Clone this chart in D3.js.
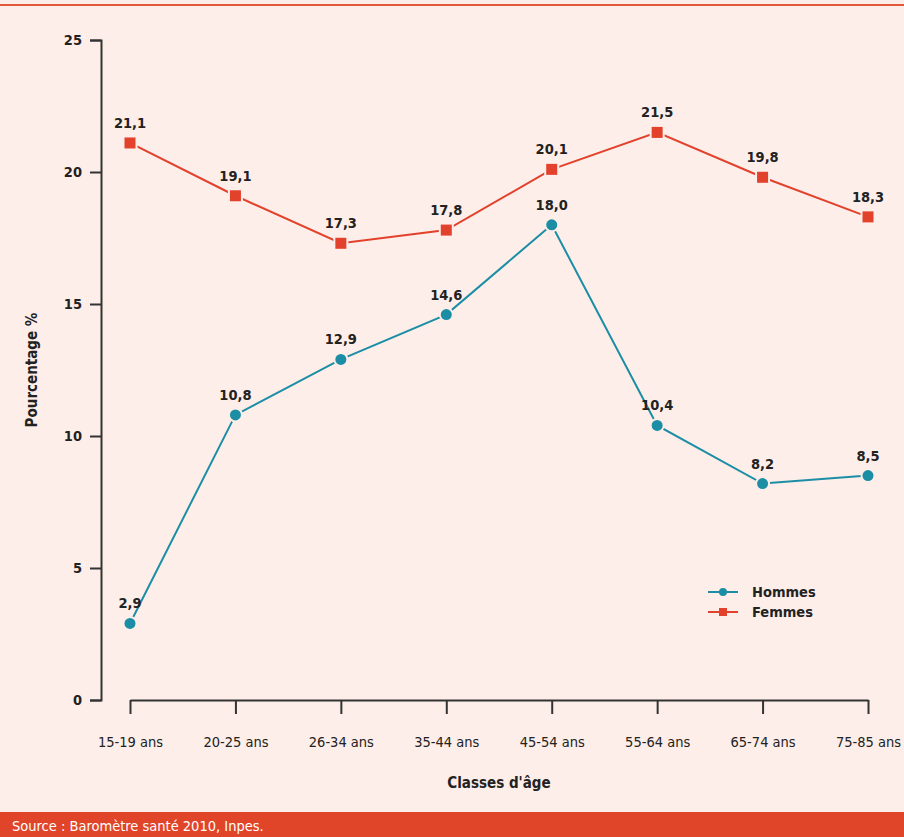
<!DOCTYPE html>
<html lang="fr">
<head>
<meta charset="UTF-8">
<title>Pourcentage par classe d'âge</title>
<script src="https://cdn.jsdelivr.net/npm/d3@7/dist/d3.min.js"></script>
<style>
  body { margin: 0; background: #fdeee9; }
  svg { display: block; font-family: "DejaVu Sans Condensed", "Open Sans", sans-serif; }
</style>
</head>
<body>
<svg width="904" height="837" id="mainsvg"></svg>
<script>
  // données
  const ageClasses = ['15-19 ans', '20-25 ans', '26-34 ans', '35-44 ans', '45-54 ans', '55-64 ans', '65-74 ans', '75-85 ans'];
  const hommes = [2.9, 10.8, 12.9, 14.6, 18.0, 10.4, 8.2, 8.5];
  const femmes = [21.1, 19.1, 17.3, 17.8, 20.1, 21.5, 19.8, 18.3];
  const yTicks = [0, 5, 10, 15, 20, 25];

  const bg = '#fdeee9';
  const colH = '#1b8ea6';
  const colF = '#e2412b';

  const svg = d3.select('svg');
  svg.append('rect').attr('width', 904).attr('height', 837).attr('fill', bg);
  // trait rouge en haut
  svg.append('rect').attr('x', 0).attr('y', 4).attr('width', 904).attr('height', 2).attr('fill', '#e2583b');

  const x = d3.scalePoint().domain(ageClasses).range([130, 868]);
  const y = d3.scaleLinear().domain([0, 25]).range([700, 40]);

  // axe Y
  const yAxis = svg.append('g').attr('transform', 'translate(101,0)')
    .call(d3.axisLeft(y).tickValues(yTicks).tickSize(11).tickPadding(8).tickFormat(d3.format('d')));
  // axe X
  const xAxis = svg.append('g').attr('transform', 'translate(0,700)')
    .call(d3.axisBottom(x).tickSize(14).tickPadding(23).tickSizeOuter(0));
  yAxis.attr('font-family', null).attr('font-size', null);
  xAxis.attr('font-family', null).attr('font-size', null);
  svg.selectAll('.domain, .tick line').attr('stroke', '#333').attr('stroke-width', 2);
  svg.selectAll('.tick text').attr('fill', '#222').attr('font-size', 14.5);
  yAxis.selectAll('.tick text').attr('font-weight', 'bold');

  // titres des axes
  svg.append('text').text("Classes d'âge")
    .attr('x', 499).attr('y', 788).attr('text-anchor', 'middle')
    .attr('font-size', 15).attr('font-weight', 'bold').attr('fill', '#222');
  svg.append('text').text('Pourcentage %')
    .attr('transform', 'translate(37,370) rotate(-90)').attr('text-anchor', 'middle')
    .attr('font-size', 15).attr('font-weight', 'bold').attr('fill', '#222');

  const fmt = v => d3.format('.1f')(v).replace('.', ',');
  const line = d3.line().x((d, i) => x(ageClasses[i])).y(d => y(d));

  const series = [
    {name: 'Hommes', values: hommes, color: colH, shape: 'circle'},
    {name: 'Femmes', values: femmes, color: colF, shape: 'square'}
  ];

  series.forEach(s => {
    const g = svg.append('g');
    g.append('path').datum(s.values).attr('d', line)
      .attr('fill', 'none').attr('stroke', s.color).attr('stroke-width', 2);
    const pts = g.selectAll('.pt').data(s.values).join('g').attr('class', 'pt')
      .attr('transform', (d, i) => `translate(${x(ageClasses[i])},${y(d)})`);
    if (s.shape === 'circle') {
      pts.append('circle').attr('r', 5.5).attr('fill', s.color).attr('stroke', bg).attr('stroke-width', 4).attr('paint-order', 'stroke');
    } else {
      pts.append('rect').attr('x', -5.5).attr('y', -5.5).attr('width', 11).attr('height', 11)
        .attr('fill', s.color).attr('stroke', bg).attr('stroke-width', 4).attr('paint-order', 'stroke');
    }
    pts.append('text').text(d => fmt(d)).attr('y', -15).attr('text-anchor', 'middle')
      .attr('font-size', 14.5).attr('font-weight', 'bold').attr('fill', '#222');
  });

  // légende
  const legend = svg.append('g').attr('transform', 'translate(708,592)');
  series.forEach((s, i) => {
    const row = legend.append('g').attr('transform', `translate(0,${i * 20})`);
    row.append('line').attr('x1', 0).attr('x2', 30).attr('stroke', s.color).attr('stroke-width', 2);
    if (s.shape === 'circle') row.append('circle').attr('cx', 15).attr('r', 4).attr('fill', s.color);
    else row.append('rect').attr('x', 11).attr('y', -4).attr('width', 8).attr('height', 8).attr('fill', s.color);
    row.append('text').text(s.name).attr('x', 44).attr('dy', '0.35em')
      .attr('font-size', 14.5).attr('font-weight', 'bold').attr('fill', '#222');
  });

  // source
  svg.append('rect').attr('x', 0).attr('y', 812).attr('width', 904).attr('height', 25).attr('fill', '#e0452a');
  svg.append('text').text('Source : Baromètre santé 2010, Inpes.')
    .attr('x', 12).attr('y', 831).attr('font-size', 14.5).attr('fill', '#fff');
</script>
</body>
</html>
